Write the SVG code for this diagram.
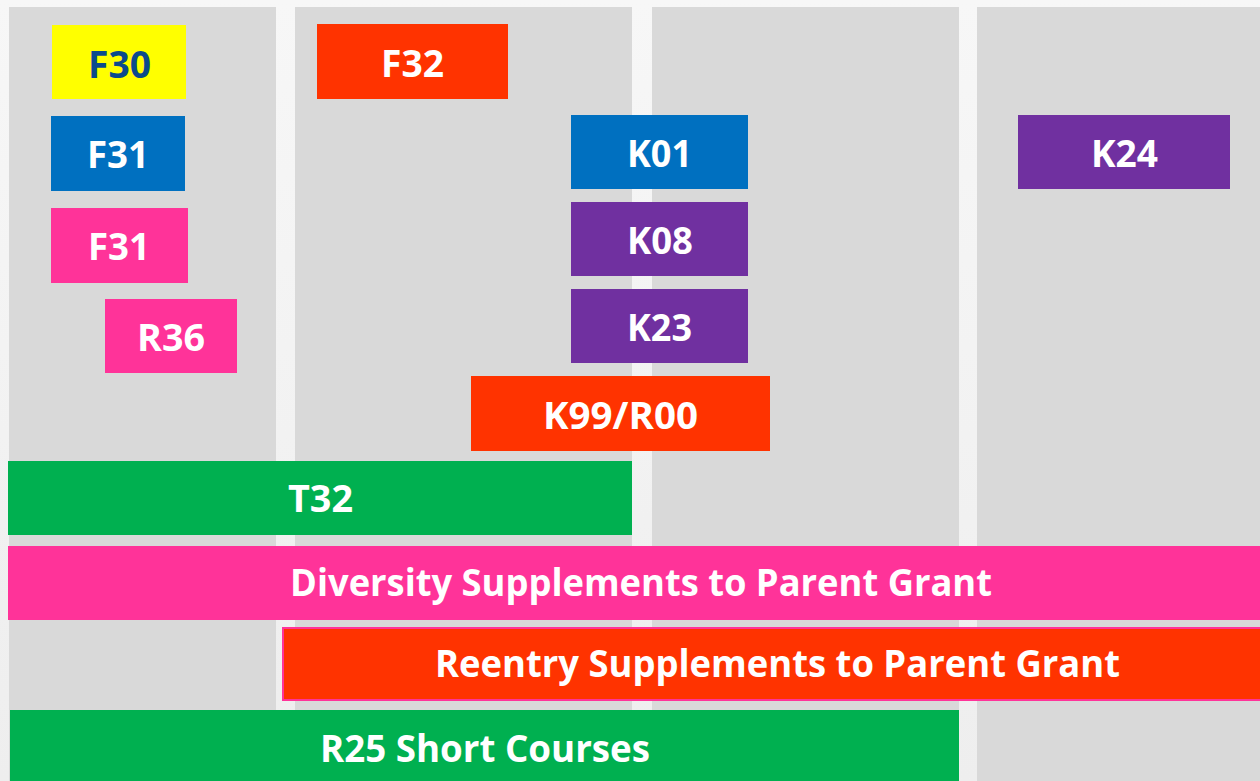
<svg xmlns="http://www.w3.org/2000/svg" width="1260" height="781" viewBox="0 0 1260 781">
<defs>
<linearGradient id="bg" x1="0" y1="0" x2="0" y2="1">
<stop offset="0" stop-color="#f7f7f7"/>
<stop offset="1" stop-color="#eeeeee"/>
</linearGradient>
</defs>
<style>
.col{fill:#d9d9d9}
.lbl{font-family:"Open Sans","Liberation Sans",sans-serif;font-weight:bold;font-size:38px;fill:#ffffff}
.dark{fill:#0b4a8c}
.yellow{fill:#ffff00}
.blue{fill:#0070c0}
.pink{fill:#ff3399}
.red{fill:#ff3300}
.purple{fill:#7030a0}
.green{fill:#00b050}
</style>
<rect x="0" y="0" width="1260" height="781" fill="url(#bg)"/>
<g id="columns">
<rect class="col" x="9" y="7" width="267" height="774"/>
<rect class="col" x="295" y="7" width="337" height="774"/>
<rect class="col" x="652" y="7" width="307" height="774"/>
<rect class="col" x="977" y="7" width="283" height="774"/>
</g>
<g id="connectors"></g>
<g id="F30"><rect class="yellow" x="52" y="25" width="134" height="74"/><text class="lbl dark" x="88" y="78" textLength="63" lengthAdjust="spacingAndGlyphs">F30</text></g>
<g id="F31a"><rect class="blue" x="51" y="116" width="134" height="75"/><text class="lbl" x="87" y="168" textLength="62" lengthAdjust="spacingAndGlyphs">F31</text></g>
<g id="F31b"><rect class="pink" x="51" y="208" width="137" height="75"/><text class="lbl" x="88" y="260" textLength="62" lengthAdjust="spacingAndGlyphs">F31</text></g>
<g id="R36"><rect class="pink" x="105" y="299" width="132" height="74"/><text class="lbl" x="137" y="351" textLength="68" lengthAdjust="spacingAndGlyphs">R36</text></g>
<g id="F32"><rect class="red" x="317" y="24" width="191" height="75"/><text class="lbl" x="381" y="77" textLength="63" lengthAdjust="spacingAndGlyphs">F32</text></g>
<g id="K01"><rect class="blue" x="571" y="115" width="177" height="74"/><text class="lbl" x="627" y="167" textLength="65" lengthAdjust="spacingAndGlyphs">K01</text></g>
<g id="K08"><rect class="purple" x="571" y="202" width="177" height="74"/><text class="lbl" x="627" y="254" textLength="66" lengthAdjust="spacingAndGlyphs">K08</text></g>
<g id="K23"><rect class="purple" x="571" y="289" width="177" height="74"/><text class="lbl" x="627" y="341" textLength="65" lengthAdjust="spacingAndGlyphs">K23</text></g>
<g id="K99R00"><rect class="red" x="471" y="376" width="299" height="75"/><text class="lbl" x="543" y="429" textLength="155" lengthAdjust="spacingAndGlyphs">K99/R00</text></g>
<g id="K24"><rect class="purple" x="1018" y="115" width="212" height="74"/><text class="lbl" x="1091" y="167" textLength="67" lengthAdjust="spacingAndGlyphs">K24</text></g>
<g id="T32"><rect class="green" x="8" y="461" width="624" height="74"/><text class="lbl" x="288" y="512" textLength="65" lengthAdjust="spacingAndGlyphs">T32</text></g>
<g id="Diversity"><rect class="pink" x="8" y="546" width="1252" height="74"/><text class="lbl" x="290" y="596" textLength="702" lengthAdjust="spacingAndGlyphs">Diversity Supplements to Parent Grant</text></g>
<g id="Reentry"><rect class="red" x="283" y="628" width="978" height="72" stroke="#ff3399" stroke-width="2"/><text class="lbl" x="435" y="677" textLength="685" lengthAdjust="spacingAndGlyphs">Reentry Supplements to Parent Grant</text></g>
<g id="R25"><rect class="green" x="10" y="710" width="949" height="71"/><text class="lbl" x="320" y="762" textLength="330" lengthAdjust="spacingAndGlyphs">R25 Short Courses</text></g>
</svg>
